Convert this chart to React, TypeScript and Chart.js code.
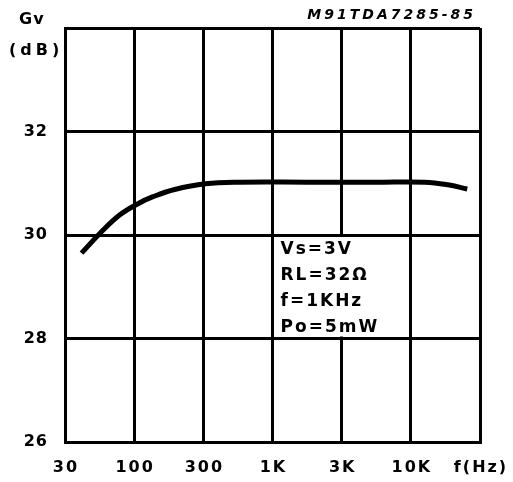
import React, { useEffect, useRef } from "react";
import { Chart, registerables } from "chart.js";

Chart.register(...registerables);

const tickFreqs = [30, 100, 300, 1000, 3000, 10000, 30000];
const tickLabels = ["30", "100", "300", "1K", "3K", "10K", "f(Hz)"];
const yTicks = [26, 28, 30, 32, 34];
const freqHz = [40, 55, 78, 107, 135, 190, 311, 575, 1730, 5480, 12500, 18000, 24500];
const gainDb = [29.65, 30.03, 30.39, 30.61, 30.74, 30.88, 30.99, 31.02, 31.02, 31.02, 31.02, 30.97, 30.89];
const notes = ["Vs=3V", "RL=32Ω", "f=1KHz", "Po=5mW"];
const chartTitle = "M91TDA7285-85";

// the printed axis spaces its ticks evenly; map a frequency to its tick position
function freqToPos(f: number): number {
  for (let i = 0; i < tickFreqs.length - 1; i++) {
    const a = tickFreqs[i], b = tickFreqs[i + 1];
    if (f <= b || i === tickFreqs.length - 2) {
      return i + Math.log(f / a) / Math.log(b / a);
    }
  }
  return 0;
}

const FONT = "'DejaVu Sans', sans-serif";

export default function App() {
  const ref = useRef<HTMLCanvasElement>(null);
  useEffect(() => {
    document.body.style.margin = "0";
    const overlay = {
      id: "overlay",
      beforeDraw(chart: any) {
        (chart.ctx as any).letterSpacing = "1px";
      },
      afterDraw(chart: any) {
        const ctx = chart.ctx;
        const xs = chart.scales.x, ys = chart.scales.y;
        ctx.save();
        ctx.fillStyle = "#000";
        ctx.textBaseline = "middle";
        // x tick labels
        ctx.font = `bold 16px ${FONT}`;
        (ctx as any).letterSpacing = "2px";
        ctx.textAlign = "center";
        tickLabels.forEach((t, i) => {
          ctx.fillText(t, xs.getPixelForValue(i) + 1, 468);
        });
        // condition box
        const x0 = xs.getPixelForValue(3) + 2;
        const x1 = xs.getPixelForValue(4) + 40;
        const yTop = ys.getPixelForValue(30) + 2;
        const yBot = ys.getPixelForValue(28) - 2;
        ctx.fillStyle = "#fff";
        ctx.fillRect(x0, yTop, x1 - x0, yBot - yTop);
        ctx.fillStyle = "#000";
        ctx.font = `bold 17px ${FONT}`;
        (ctx as any).letterSpacing = "2px";
        ctx.textAlign = "left";
        const step = 26;
        notes.forEach((t, i) => {
          ctx.fillText(t, x0 + 6, yTop + 13 + step * i);
        });
        // axis title
        ctx.font = `bold 16px ${FONT}`;
        (ctx as any).letterSpacing = "1px";
        ctx.fillText("Gv", 19, 20);
        (ctx as any).letterSpacing = "4px";
        ctx.fillText("(dB)", 9, 51);
        // chart title
        ctx.font = `italic bold 14px ${FONT}`;
        (ctx as any).letterSpacing = "3px";
        ctx.textAlign = "right";
        ctx.fillText(chartTitle, 476, 15);
        ctx.restore();
        (ctx as any).letterSpacing = "0px";
      },
    };
    const chart = new Chart(ref.current!, {
      type: "line",
      data: {
        datasets: [
          {
            data: freqHz.map((f, i) => ({ x: freqToPos(f), y: gainDb[i] })),
            borderColor: "#000",
            borderWidth: 5,
            pointRadius: 0,
            tension: 0.4,
            fill: false,
          },
        ],
      },
      options: {
        animation: false,
        responsive: false,
        layout: { padding: { top: 28, right: 33, left: 0, bottom: 0 } },
        plugins: { legend: { display: false }, tooltip: { enabled: false } },
        scales: {
          x: {
            type: "linear",
            min: 0,
            max: 6,
            afterFit: (s: any) => { s.height = 40; },
            afterBuildTicks: (s: any) => { s.ticks = tickLabels.map((_, i) => ({ value: i })); },
            ticks: { display: false },
            grid: { color: "#000", lineWidth: 3, drawTicks: false },
            border: { color: "#000", width: 3 },
          },
          y: {
            type: "linear",
            min: 26,
            max: 34,
            afterFit: (s: any) => { s.width = 65; },
            afterBuildTicks: (s: any) => { s.ticks = yTicks.map((v) => ({ value: v })); },
            ticks: {
              color: "#000",
              font: { family: FONT, size: 16, weight: "bold" },
              padding: 17,
              callback: (v: any) => (Number(v) === 34 ? "" : String(v)),
            },
            grid: { color: "#000", lineWidth: 3, drawTicks: false },
            border: { color: "#000", width: 3 },
          },
        },
      },
      plugins: [overlay],
    } as any);
    return () => chart.destroy();
  }, []);
  return <canvas ref={ref} width={513} height={482} style={{ display: "block" }} />;
}
